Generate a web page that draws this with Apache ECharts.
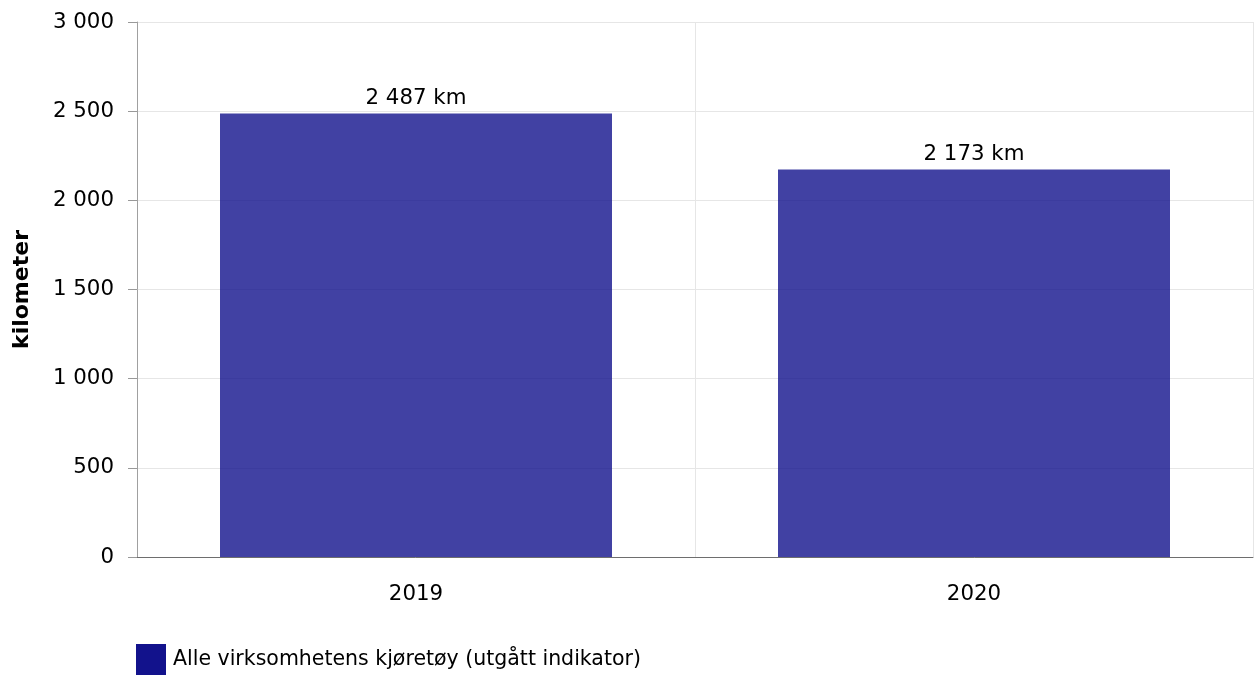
<!DOCTYPE html>
<html>
<head>
    <meta charset="utf-8">
    <title>Kjøretøy</title>
    <script src="https://cdn.jsdelivr.net/npm/echarts@6/dist/echarts.min.js"></script>
    <style>
        html, body { margin: 0; padding: 0; background: #fff; }
        #main { width: 1255px; height: 677px; }
    </style>
</head>
<body>
<div id="main"></div>
<script type="text/javascript">
    var years = ['2019', '2020'];
    var kmValues = [2487, 2173];
    var seriesName = 'Alle virksomhetens kjøretøy (utgått indikator)';
    var yTicks = [0, 500, 1000, 1500, 2000, 2500, 3000];

    // tall med mellomrom som tusenskille
    function fmt(v) {
        return String(v).replace(/\B(?=(\d{3})+(?!\d))/g, ' ');
    }

    var myChart = echarts.init(document.getElementById('main'));
    var font = 'Verdana, "DejaVu Sans", sans-serif';
    var fs = 21.33;

    var option = {
        animation: false,
        textStyle: { fontFamily: font },
        grid: { left: 137, right: 2, top: 22, bottom: 120, containLabel: false },
        legend: {
            data: [{ name: seriesName, itemStyle: { color: '#12128c', opacity: 1 } }],
            left: 136,
            top: 644,
            padding: 0,
            itemWidth: 30,
            itemHeight: 31,
            itemGap: 10,
            icon: 'rect',
            textStyle: { fontSize: 20.5, color: '#000', fontFamily: font, padding: [0, 0, 0, 2] }
        },
        xAxis: {
            type: 'category',
            data: years,
            axisLine: { lineStyle: { color: '#6e6e6e', width: 1 } },
            axisTick: { alignWithLabel: true, length: 8, lineStyle: { color: '#999' } },
            axisLabel: { fontSize: fs, color: '#000', margin: 27, fontFamily: font },
            splitLine: { show: true, lineStyle: { color: '#e6e6e6' } }
        },
        yAxis: {
            type: 'value',
            min: yTicks[0],
            max: yTicks[yTicks.length - 1],
            interval: 500,
            name: 'kilometer',
            nameLocation: 'middle',
            nameGap: 104,
            nameTextStyle: { fontSize: 22, fontWeight: 'bold', color: '#000', fontFamily: font },
            axisLine: { show: true, lineStyle: { color: '#a0a0a0' } },
            axisTick: { show: true, length: 9, lineStyle: { color: '#999' } },
            axisLabel: { fontSize: fs, color: '#000', margin: 23, fontFamily: font, formatter: fmt },
            splitLine: { show: true, lineStyle: { color: '#e6e6e6' } }
        },
        series: [{
            name: seriesName,
            type: 'bar',
            data: kmValues,
            barWidth: 392,
            itemStyle: { color: 'rgba(18,18,140,0.8)' },
            label: {
                show: true,
                position: 'top',
                distance: 5,
                fontSize: fs,
                color: '#000',
                fontFamily: font,
                formatter: function (p) { return fmt(p.value) + ' km'; }
            }
        }],
        color: ['#12128c']
    };

    myChart.setOption(option);
</script>
</body>
</html>
